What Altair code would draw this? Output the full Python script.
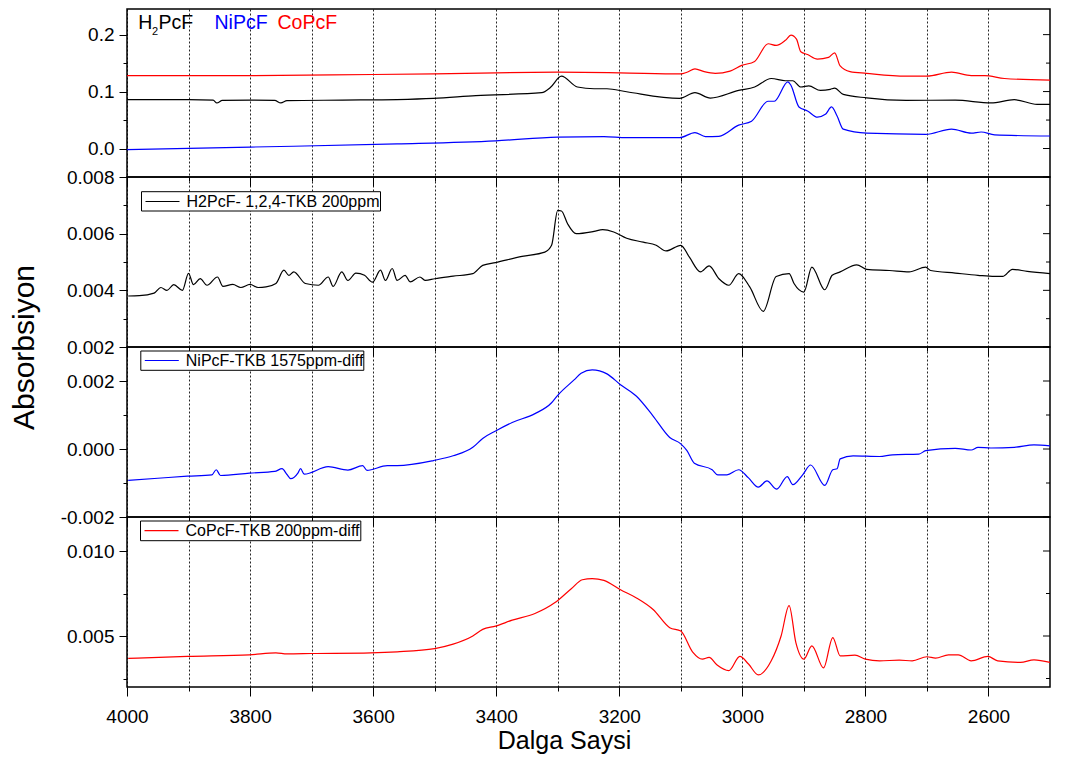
import altair as alt
import pandas as pd

# ---------------- data ----------------
series_names = ["H2PcF", "NiPcF", "CoPcF"]
series_colors = ["#000000", "#0000ff", "#ff0000"]

top_h2_w = [4000, 3900, 3860, 3854, 3845, 3800, 3760, 3750, 3740, 3650, 3561, 3502, 3433, 3326, 3312, 3294,
            3268, 3241, 3220, 3188, 3102, 3077, 3052, 3006, 2980, 2953, 2930, 2918, 2905, 2892, 2873, 2857,
            2850, 2836, 2798, 2734, 2654, 2596, 2558, 2521, 2500]
top_h2_a = [0.0857, 0.0857, 0.0850, 0.0800, 0.0845, 0.0850, 0.0845, 0.0800, 0.0840, 0.0850, 0.0860, 0.0880,
            0.0930, 0.0980, 0.1070, 0.1270, 0.1080, 0.1050, 0.1050, 0.0997, 0.0880, 0.0980, 0.0886, 0.1020,
            0.1080, 0.1230, 0.1190, 0.1190, 0.1080, 0.1100, 0.1020, 0.1040, 0.1060, 0.0950, 0.0890, 0.0846,
            0.0850, 0.0800, 0.0857, 0.0776, 0.0776]

top_ni_w = [4000, 3800, 3561, 3401, 3300, 3225, 3188, 3102, 3077, 3060, 3038, 3006, 2985, 2958, 2948, 2926,
            2921, 2908, 2894, 2878, 2865, 2855, 2846, 2836, 2798, 2702, 2660, 2628, 2612, 2590, 2500]
top_ni_a = [-0.0020, 0.0025, 0.0080, 0.0135, 0.0200, 0.0210, 0.0190, 0.0190, 0.0280, 0.0210, 0.0215, 0.0410,
            0.0480, 0.0830, 0.0830, 0.1170, 0.1110, 0.0730, 0.0660, 0.0550, 0.0600, 0.0730, 0.0570, 0.0340,
            0.0270, 0.0250, 0.0340, 0.0270, 0.0290, 0.0240, 0.0220]

top_co_w = [4000, 3800, 3600, 3500, 3400, 3300, 3200, 3100, 3090, 3077, 3062, 3044, 3020, 3001, 2980, 2958,
            2945, 2930, 2921, 2912, 2905, 2894, 2878, 2860, 2850, 2841, 2825, 2798, 2734, 2700, 2660, 2628,
            2606, 2574, 2500]
top_co_a = [0.128, 0.128, 0.130, 0.131, 0.133, 0.134, 0.133, 0.131, 0.134, 0.140, 0.135, 0.132, 0.136, 0.146,
            0.153, 0.184, 0.181, 0.190, 0.199, 0.192, 0.170, 0.165, 0.157, 0.160, 0.168, 0.145, 0.135, 0.132,
            0.127, 0.127, 0.134, 0.128, 0.128, 0.123, 0.120]

h2_label = "H2PcF- 1,2,4-TKB 200ppm"
h2_w = [3998, 3980, 3956, 3945, 3935, 3924, 3910, 3900, 3892, 3881, 3870, 3853, 3844, 3828, 3815, 3800, 3787,
        3774, 3758, 3745, 3737, 3729, 3710, 3689, 3673, 3665, 3651, 3641, 3628, 3614, 3601, 3588, 3580, 3569,
        3561, 3548, 3540, 3524, 3515, 3500, 3470, 3438, 3422, 3401, 3358, 3321, 3310, 3300, 3294, 3284, 3270,
        3241, 3227, 3209, 3188, 3161, 3140, 3124, 3100, 3086, 3068, 3054, 3038, 3022, 3006, 2988, 2966, 2945,
        2924, 2916, 2900, 2887, 2866, 2854, 2841, 2814, 2798, 2761, 2729, 2702, 2694, 2654, 2617, 2590, 2577,
        2561, 2537, 2500]
h2_a = [0.00380, 0.00381, 0.00390, 0.00410, 0.00400, 0.00420, 0.00400, 0.00460, 0.00420, 0.00441, 0.00418,
        0.00447, 0.00414, 0.00421, 0.00410, 0.00421, 0.00410, 0.00412, 0.00424, 0.00471, 0.00453, 0.00465,
        0.00424, 0.00418, 0.00447, 0.00414, 0.00465, 0.00435, 0.00461, 0.00453, 0.00429, 0.00471, 0.00435,
        0.00477, 0.00435, 0.00453, 0.00430, 0.00447, 0.00435, 0.00441, 0.00450, 0.00459, 0.00488, 0.00498,
        0.00520, 0.00535, 0.00559, 0.00682, 0.00680, 0.00635, 0.00600, 0.00608, 0.00614, 0.00606, 0.00584,
        0.00570, 0.00559, 0.00539, 0.00559, 0.00517, 0.00465, 0.00486, 0.00441, 0.00418, 0.00459, 0.00412,
        0.00326, 0.00449, 0.00459, 0.00424, 0.00394, 0.00482, 0.00402, 0.00453, 0.00465, 0.00490, 0.00474,
        0.00470, 0.00465, 0.00482, 0.00470, 0.00461, 0.00453, 0.00449, 0.00449, 0.00474, 0.00467, 0.00459]

ni_label = "NiPcF-TKB 1575ppm-diff"
ni_w = [3998, 3950, 3902, 3862, 3855, 3848, 3801, 3760, 3748, 3740, 3734, 3722, 3718, 3712, 3673, 3641, 3617,
        3610, 3577, 3561, 3502, 3470, 3438, 3422, 3401, 3374, 3337, 3310, 3300, 3273, 3262, 3244, 3220, 3198,
        3172, 3145, 3118, 3100, 3090, 3078, 3049, 3040, 3025, 3006, 2990, 2974, 2960, 2944, 2927, 2918, 2902,
        2889, 2866, 2853, 2846, 2841, 2820, 2777, 2756, 2713, 2702, 2654, 2628, 2617, 2596, 2558, 2526, 2500]
ni_a = [-0.00092, -0.00086, -0.00080, -0.00076, -0.00061, -0.00078, -0.00071, -0.00066, -0.00058, -0.00075,
        -0.00087, -0.00070, -0.00058, -0.00074, -0.00052, -0.00062, -0.00049, -0.00063, -0.00049, -0.00049,
        -0.00034, -0.00020, 0.00005, 0.00031, 0.00053, 0.00078, 0.00104, 0.00136, 0.00158, 0.00204, 0.00223,
        0.00233, 0.00221, 0.00189, 0.00155, 0.00097, 0.00034, 0.00015, -0.00005, -0.00042, -0.00061, -0.00076,
        -0.00076, -0.00061, -0.00085, -0.00112, -0.00094, -0.00118, -0.00081, -0.00105, -0.00076, -0.00047,
        -0.00107, -0.00061, -0.00058, -0.00029, -0.00020, -0.00022, -0.00017, -0.00015, -0.00005, 0.00002,
        -0.00003, 0.00005, 0.00003, 0.00005, 0.00012, 0.00009]

co_label = "CoPcF-TKB 200ppm-diff"
co_w = [3998, 3902, 3801, 3758, 3740, 3700, 3604, 3561, 3500, 3470, 3438, 3422, 3401, 3374, 3337, 3305, 3278,
        3260, 3244, 3225, 3198, 3172, 3145, 3118, 3100, 3081, 3065, 3054, 3041, 3022, 3004, 2990, 2974, 2953,
        2937, 2924, 2913, 2900, 2887, 2868, 2853, 2841, 2817, 2800, 2777, 2745, 2724, 2700, 2686, 2665, 2649,
        2628, 2601, 2585, 2548, 2526, 2500]
co_a = [0.00368, 0.00380, 0.00389, 0.00401, 0.00395, 0.00397, 0.00401, 0.00407, 0.00426, 0.00452, 0.00500,
        0.00539, 0.00558, 0.00593, 0.00632, 0.00695, 0.00778, 0.00831, 0.00838, 0.00827, 0.00772, 0.00724,
        0.00656, 0.00549, 0.00529, 0.00407, 0.00364, 0.00374, 0.00329, 0.00296, 0.00380, 0.00335, 0.00271,
        0.00354, 0.00500, 0.00679, 0.00461, 0.00364, 0.00442, 0.00312, 0.00491, 0.00383, 0.00387, 0.00364,
        0.00354, 0.00358, 0.00354, 0.00378, 0.00370, 0.00389, 0.00389, 0.00354, 0.00380, 0.00354, 0.00345,
        0.00360, 0.00345]

# axis ticks (major ones carry labels)
x_ticks = list(range(4000, 2599, -100))
p1_major, p1_minor = [0.0, 0.1, 0.2], [-0.05, 0.05, 0.15]
p2_major, p2_minor = [0.002, 0.004, 0.006, 0.008], [0.003, 0.005, 0.007]
p3_major, p3_minor = [-0.002, 0.0, 0.002], [-0.001, 0.001, 0.003]
p4_major, p4_minor = [0.005, 0.010], [0.0025, 0.0075]
x_title = "Dalga Saysi"
y_title = "Absorbsiyon"

# ---------------- chart ----------------
FONT = "Liberation Sans"
W = 923
H1, H2, H3, H4 = 168, 170, 170, 170

x_scale = alt.Scale(domain=[2500, 4000], reverse=True, nice=False, zero=False)
x_major = "datum.value % 200 == 0"


def x_axis(show_labels):
    kw = dict(values=x_ticks, grid=True, gridColor="#000000", gridDash=[2, 2], gridWidth=1, gridOpacity=0.85,
              tickSize={"condition": {"test": x_major, "value": 9}, "value": 4},
              tickColor="#000000", domain=False, labelFlush=False, labelOverlap=False)
    if show_labels:
        kw.update(labels=True, labelExpr=f"{x_major} ? format(datum.value, 'd') : ''",
                  labelFontSize=19, labelPadding=11, labelColor="#000000", labelFont=FONT,
                  title=x_title, titleFontSize=25, titleFont=FONT, titleFontWeight="normal",
                  titleColor="#000000", titleX=437, titleY=61, titleBaseline="alphabetic", titleAlign="center")
    else:
        kw.update(labels=False, title=None)
    return alt.Axis(**kw)


def y_axis(major, minor, digits, title=None, title_y=None):
    k = 10000
    majors = ",".join(str(round(v * k)) for v in major)
    test = f"indexof([{majors}], round(datum.value*{k})) >= 0"
    lab = f"{test} ? ((datum.value < -1e-9 ? '-' : '') + format(abs(datum.value), '.{digits}f')) : ''"
    kw = dict(values=sorted(major + minor), labelExpr=lab, grid=False, labelFlush=False, labelOverlap=False,
              tickSize={"condition": {"test": test, "value": 8}, "value": 4},
              tickColor="#000000", domain=False, labelFontSize=19, labelFont=FONT, labelColor="#000000",
              labelPadding=5)
    if title:
        kw.update(title=title, titleFontSize=30, titleFont=FONT, titleFontWeight="normal", titleColor="#000000",
                  titleX=-93.5, titleY=title_y, titleAngle=270, titleAlign="center", titleBaseline="alphabetic")
    else:
        kw.update(title=None)
    return alt.Axis(**kw)


def legend_box(label, color, bx1, bx2, by1, by2, ly):
    d = pd.DataFrame({"t": [label]})
    box = alt.Chart(d).mark_rect(fill="white", stroke="#000000", strokeWidth=1).encode(
        x=alt.value(bx1), x2=alt.value(bx2), y=alt.value(by1), y2=alt.value(by2))
    sample = alt.Chart(d).mark_rule(color=color, strokeWidth=1.2).encode(
        x=alt.value(bx1 + 4), x2=alt.value(bx1 + 38), y=alt.value(ly))
    text = alt.Chart(d).mark_text(align="left", baseline="middle", fontSize=16, font=FONT,
                                  color="#000000").encode(
        x=alt.value(bx1 + 45), y=alt.value(ly + 0.5), text="t:N")
    return [box, sample, text]


def txt(s, x, y, size, color):
    return alt.Chart(pd.DataFrame({"t": [s]})).mark_text(
        align="left", baseline="alphabetic", fontSize=size, font=FONT, color=color).encode(
        x=alt.value(x), y=alt.value(y), text="t:N")


def panel(df, color_enc, y_dom, major, minor, digits, height, legend_layers, show_x_labels=False,
          title=None, color=None):
    yscale = alt.Scale(domain=y_dom, nice=False, zero=False)
    yax = y_axis(major, minor, digits, title=title, title_y=height if title else None)
    line_kw = dict(strokeWidth=1.2, interpolate="monotone")
    if color:
        line_kw["color"] = color
    enc = dict(
        x=alt.X("w:Q", scale=x_scale, axis=x_axis(show_x_labels)),
        y=alt.Y("a:Q", scale=yscale, axis=yax),
    )
    if color_enc is not None:
        enc["color"] = color_enc
        enc["detail"] = "s:N"
    line = alt.Chart(df).mark_line(**line_kw).encode(**enc)
    # ticks on the right-hand frame (inward)
    rmaj = alt.Chart(pd.DataFrame({"a": major})).mark_rule(color="#000000", strokeWidth=1).encode(
        y=alt.Y("a:Q", scale=yscale, axis=yax), x=alt.value(W - 7), x2=alt.value(W))
    rmin = alt.Chart(pd.DataFrame({"a": minor})).mark_rule(color="#000000", strokeWidth=1).encode(
        y=alt.Y("a:Q", scale=yscale, axis=yax), x=alt.value(W - 4), x2=alt.value(W))
    return alt.layer(line, rmaj, rmin, *legend_layers).properties(width=W, height=height)


# Panel 1
top_df = pd.concat([
    pd.DataFrame({"w": top_co_w, "a": top_co_a, "s": series_names[2]}),
    pd.DataFrame({"w": top_h2_w, "a": top_h2_a, "s": series_names[0]}),
    pd.DataFrame({"w": top_ni_w, "a": top_ni_a, "s": series_names[1]}),
])
p1_color = alt.Color("s:N", scale=alt.Scale(domain=series_names, range=series_colors), legend=None)
p1 = panel(top_df, p1_color, [-0.05, 0.245], p1_major, p1_minor, 1, H1, [
    txt("H", 11.2, 19.5, 19.5, "#000000"),
    txt("2", 25.0, 26.2, 11, "#000000"),
    txt("PcF", 31.6, 19.5, 19.5, "#000000"),
    txt(series_names[1], 87.5, 19.5, 19.5, "#0000ff"),
    txt(series_names[2], 150.5, 19.5, 19.5, "#ff0000"),
])

# Panel 2
p2 = panel(pd.DataFrame({"w": h2_w, "a": h2_a}), None, [0.002, 0.008], p2_major, p2_minor, 3, H2,
           legend_box(h2_label, "#000000", 14.5, 253.5, 14.7, 34, 24.5), title=y_title, color="#000000")

# Panel 3
p3 = panel(pd.DataFrame({"w": ni_w, "a": ni_a}), None, [-0.002, 0.003], p3_major, p3_minor, 3, H3,
           legend_box(ni_label, "#0000ff", 13.8, 236.8, 4, 23.3, 13.5), color="#0000ff")

# Panel 4
p4 = panel(pd.DataFrame({"w": co_w, "a": co_a}), None, [0.002, 0.012], p4_major, p4_minor, 3, H4,
           legend_box(co_label, "#ff0000", 13.5, 233.8, 4, 23.7, 13.7), show_x_labels=True, color="#ff0000")

chart = alt.vconcat(p1, p2, p3, p4, spacing=0, bounds="flush").configure_view(
    stroke="#000000", strokeWidth=1.5
).properties(
    padding={"left": 0, "top": 0, "right": 0, "bottom": 0},
    background="white",
)

chart.save("out.html", embed_options={"renderer": "svg", "actions": False})
